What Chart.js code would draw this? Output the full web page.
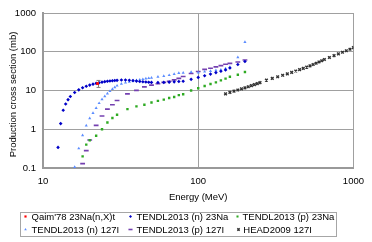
<!DOCTYPE html>
<html>
<head>
<meta charset="utf-8">
<script src="https://cdn.jsdelivr.net/npm/chart.js@4.4.1/dist/chart.umd.min.js"></script>
<style>
  body { margin: 0; background: #fff; }
  #wrap { position: relative; width: 372px; height: 242px; font-family: "Liberation Sans", Arial, sans-serif; }
  #legend { position: absolute; left: 20px; top: 212px; width: 317px; height: 25px; border: 1px solid #a6a6a6; box-sizing: border-box; }
  .item { position: absolute; font-size: 9.5px; line-height: 12px; white-space: nowrap; color: #000; }
  .mk { position: absolute; }
</style>
</head>
<body>
<div id="wrap">
  <canvas id="chart" width="372" height="242"></canvas>
  <div id="legend"></div>
</div>
<script>
// axis ticks
const xTicks = [10, 100, 1000];
const yTicks = [0.1, 1, 10, 100, 1000];

// Qaim'78 measurement
const qaimE = [22.5];
const qaimXs = [15.1];
const qaimErr = [3.1];

// TENDL2013 (n) 23Na
const na23nE = [12.5, 13, 13.5, 14, 14.5, 15, 16, 17, 18, 19, 20, 21, 22, 23, 24, 25, 26, 27, 28, 29, 30,
  32, 34, 36, 38, 40, 42, 44, 46, 48, 50, 55, 60, 65, 70, 75, 80, 90, 100, 110, 120, 130, 140, 150, 160, 180, 200];
const na23nXs = [0.34, 1.4, 3.1, 4.5, 5.8, 7.0, 8.9, 10.4, 11.8, 12.9, 13.8, 14.6, 15.3, 15.9, 16.4, 16.9, 17.3, 17.6, 17.9, 18.1, 18.3,
  18.6, 18.6, 18.4, 18.0, 17.5, 17.1, 16.8, 16.5, 16.3, 16.2, 16.1, 16.2, 16.4, 16.7, 17.0, 17.3, 19.4, 21.8, 24.0, 26.5, 29.0, 31.5, 34.0, 38.0, 47.0, 56.0];

// TENDL2013 (p) 23Na
const na23pE = [18, 19, 20, 22, 24, 26, 28, 30, 35, 40, 45, 50, 55, 60, 65, 70, 75, 80, 90, 100, 110, 120, 130, 140, 150, 160, 180, 200];
const na23pXs = [0.20, 0.40, 0.52, 0.68, 1.0, 1.5, 1.96, 2.37, 3.3, 3.9, 4.3, 4.9, 5.4, 5.8, 6.4, 6.8, 7.6, 8.0, 10.0, 11.4, 13.1, 14.7, 16.2, 18.3, 20.2, 22.7, 25.6, 30.0];

// TENDL2013 (n) 127I
const i127nE = [16, 17, 18, 19, 20, 21, 22, 23, 24, 25, 26, 27, 28, 29, 30,
  32, 34, 36, 38, 40, 42, 44, 46, 48, 50, 55, 60, 65, 70, 75, 80, 90, 100, 110, 120, 130, 140, 150, 160, 180, 200];
const i127nXs = [0.106, 0.32, 0.70, 1.24, 1.92, 2.63, 3.53, 4.7, 5.9, 7.1, 8.3, 9.6, 10.9, 12.1, 13.3,
  14.8, 15.9, 16.8, 17.6, 18.3, 19.0, 19.6, 20.2, 20.8, 21.3, 22.5, 23.6, 24.8, 26.4, 28.3, 28.5, 30.0, 29.0, 30.6, 31.6, 33.0, 34.3, 36.6, 40.0, 72.0, 178.0];

// TENDL2013 (p) 127I
const i127pE = [18, 19, 20, 22, 24, 26, 28, 30, 35, 40, 45, 50, 55, 60, 65, 70, 75, 80, 90, 100, 110, 120, 130, 140, 150, 160, 180, 200];
const i127pXs = [0.13, 0.28, 0.53, 1.26, 2.2, 3.3, 4.3, 5.5, 8.2, 10.1, 12.4, 13.8, 15.0, 16.2, 17.4, 18.8, 20.5, 23.0, 27.5, 31.0, 35.0, 37.6, 40.7, 43.8, 47.4, 50.0, 54.6, 61.0];

// HEAD2009 127I
const headE = [150, 160, 170, 180, 190, 200, 210, 220, 230, 240, 250,
  275, 300, 325, 350, 375, 400, 425, 450, 475, 500, 525, 550, 575, 600, 625,
  650, 700, 750, 800, 850, 900, 950, 1000];
const headXs = [8.2, 8.9, 9.6, 10.3, 11.0, 11.7, 12.5, 13.3, 14.2, 15.1, 16.0,
  18.5, 20.5, 22.6, 24.7, 26.9, 29.3, 31.8, 34.4, 37.2, 40.2, 43.4, 46.8, 50.5, 54.5, 58.5,
  63.0, 71.0, 79.5, 88.0, 97.0, 106.0, 116.0, 128.0];

function pts(xs, ys) {
  return xs.map((x, i) => ({ x: x, y: ys[i] }));
}

const FONT = "'Liberation Sans', Arial, sans-serif";

const datasets = [
  { label: "Qaim'78 23Na(n,X)t", data: pts(qaimE, qaimXs), pointStyle: 'rect', pointRadius: 1.8,
    backgroundColor: '#ff0000', borderColor: '#ff0000', borderWidth: 0 },
  { label: 'TENDL2013 (n) 23Na', data: pts(na23nE, na23nXs), pointStyle: 'rectRot', pointRadius: 1.8,
    backgroundColor: '#0000c8', borderColor: '#0000c8', borderWidth: 0 },
  { label: 'TENDL2013 (p) 23Na', data: pts(na23pE, na23pXs), pointStyle: 'rect', pointRadius: 1.7,
    backgroundColor: '#2eaa22', borderColor: '#2eaa22', borderWidth: 0 },
  { label: 'TENDL2013 (n) 127I', data: pts(i127nE, i127nXs), pointStyle: 'triangle', pointRadius: 1.8,
    backgroundColor: '#5b8cff', borderColor: '#5b8cff', borderWidth: 0 },
  { label: 'TENDL2013 (p) 127I', data: pts(i127pE, i127pXs), pointStyle: 'line', pointRadius: 2.4,
    backgroundColor: '#7440b0', borderColor: '#7440b0', borderWidth: 1.6 },
  { label: 'HEAD2009 127I', data: pts(headE, headXs), pointStyle: 'crossRot', pointRadius: 1.9,
    backgroundColor: '#333', borderColor: '#333', borderWidth: 1.4 }
];

const errorBars = {
  id: 'errorBars',
  afterDatasetsDraw(chart) {
    const ctx = chart.ctx, xs = chart.scales.x, ys = chart.scales.y;
    ctx.save();
    ctx.strokeStyle = '#808080';
    ctx.lineWidth = 1;
    qaimE.forEach((e, i) => {
      const px = Math.round(xs.getPixelForValue(e)) + 0.5;
      const top = ys.getPixelForValue(qaimXs[i] + qaimErr[i]);
      const bot = ys.getPixelForValue(qaimXs[i] - qaimErr[i]);
      ctx.beginPath();
      ctx.moveTo(px, top); ctx.lineTo(px, bot);
      ctx.moveTo(px - 2, top); ctx.lineTo(px + 2, top);
      ctx.moveTo(px - 2, bot); ctx.lineTo(px + 2, bot);
      ctx.stroke();
    });
    ctx.restore();
    // redraw measured point above its error bar
    chart.getDatasetMeta(0).data.forEach(p => p.draw(ctx, chart.chartArea));
  }
};

const chart = new Chart(document.getElementById('chart'), {
  type: 'scatter',
  data: { datasets: datasets },
  options: {
    responsive: false,
    animation: false,
    devicePixelRatio: 1,
    layout: { padding: { left: 0, right: 15, top: 13, bottom: 38 } },
    plugins: { legend: { display: false }, tooltip: { enabled: false } },
    scales: {
      x: {
        type: 'logarithmic', min: 10, max: 1000,
        afterBuildTicks: s => { s.ticks = xTicks.map(v => ({ value: v })); },
        afterFit: s => { s.height = 36; },
        ticks: { color: '#000', font: { family: FONT, size: 9.5 }, padding: 8, callback: v => String(v), maxRotation: 0 },
        grid: { color: '#a0a0a0', lineWidth: 1, drawTicks: false },
        border: { color: '#999', width: 2 },
        title: { display: true, text: 'Energy (MeV)', color: '#000', font: { family: FONT, size: 9.5 }, padding: { top: 0, bottom: 1 } }
      },
      y: {
        type: 'logarithmic', min: 0.1, max: 1000,
        afterBuildTicks: s => { s.ticks = yTicks.map(v => ({ value: v })); },
        afterFit: s => { s.width = 43; },
        ticks: { color: '#000', font: { family: FONT, size: 9.5 }, padding: 7, callback: v => String(v) },
        grid: { color: '#a0a0a0', lineWidth: 1, drawTicks: false },
        border: { color: '#999', width: 2 },
        // trailing spaces nudge the centred title a little lower, as in the original
        title: { display: true, text: 'Production cross section (mb)   ', color: '#000', font: { family: FONT, size: 9.5 }, padding: { top: 8, bottom: 0 } }
      }
    }
  },
  plugins: [errorBars]
});

// html legend in three columns, built from the datasets
const legendPos = [[5, 11.5, 4.7], [110, 116.5, 4.7], [217.5, 222.5, 4.7],
                   [5, 11.5, 17.3], [110.5, 116.5, 17.3], [218, 223.3, 17.3]];
const legend = document.getElementById('legend');
datasets.forEach((ds, i) => {
  const [mx, tx, cy] = legendPos[i];
  const c = document.createElement('canvas');
  c.width = 9; c.height = 9;
  c.className = 'mk';
  c.style.left = (mx - 5.5) + 'px';
  c.style.top = (cy - 5.5) + 'px';
  const g = c.getContext('2d');
  g.fillStyle = ds.backgroundColor;
  g.strokeStyle = ds.borderColor;
  g.lineWidth = ds.borderWidth;
  Chart.helpers.drawPoint(g, { pointStyle: ds.pointStyle, radius: ds.pointRadius * 0.85, borderWidth: ds.borderWidth, rotation: 0 }, 4.5, 4.5);
  legend.appendChild(c);
  const t = document.createElement('div');
  t.className = 'item';
  t.textContent = ds.label;
  t.style.left = (tx - 1) + 'px';
  t.style.top = (cy - 6.5) + 'px';
  legend.appendChild(t);
});
</script>
</body>
</html>
